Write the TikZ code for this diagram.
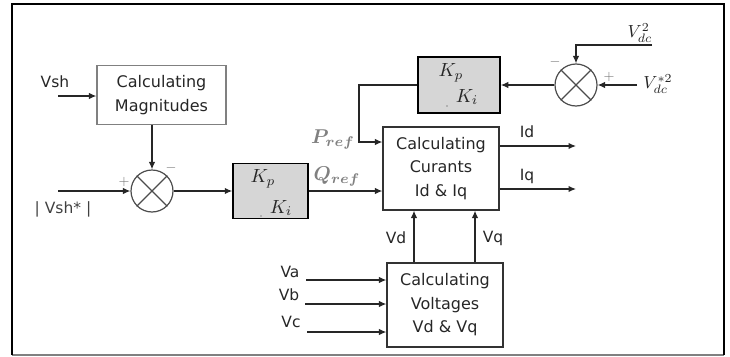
\documentclass[tikz,border=0pt]{standalone}
\usepackage[no-math]{fontspec}
\setmainfont{DejaVu Sans}
\usepackage{amsmath,bm,graphicx}
\usetikzlibrary{arrows.meta}
\begin{document}
\begin{tikzpicture}[x=1pt,y=-1pt,
  lbl/.style={font=\fontsize{15.5}{20}\selectfont, inner sep=0pt, text=black!85},
  blk/.style={draw=black!80, line width=1.2pt, align=center, inner sep=0pt,
    font=\fontsize{16}{23.5}\selectfont, text=black!85},
  pibox/.style={draw=black, fill=black!16, line width=1.5pt, inner sep=0pt,
    minimum height=55pt},
  sumc/.style={circle, draw=black!70, line width=1.2pt, minimum size=42pt, inner sep=0pt},
  arr/.style={line width=1.3pt, draw=black!85, -{Latex[length=7.5pt,width=6.5pt]}},
  refl/.style={text=black!50, inner sep=0pt},
  sgn/.style={text=black!55, inner sep=0pt},
  kfont/.style={inner sep=0pt, text=black!85},
  vfont/.style={inner sep=0pt, text=black!85}]
\useasboundingbox (0,0) rectangle (730,356);
% frame
\draw[black!50, line width=1.5pt] (12,355) -- (724,355);
\draw[black, line width=2pt] (12,355) -- (12,4) -- (724,4) -- (724,355);

% blocks
\node[blk, draw=black!50, minimum width=129pt, minimum height=59pt] (mag) at (161.5,95) {Calculating\\Magnitudes};
\node[blk, minimum width=116pt, minimum height=83pt] (cur) at (441,168.5) {Calculating\\Curants\\Id \& Iq};
\node[blk, minimum width=116pt, minimum height=84pt] (vol) at (445,305) {Calculating\\Voltages\\Vd \& Vq};
\node[pibox, minimum width=75pt] (kp1) at (270.5,191) {};
\node[pibox, minimum width=82pt, minimum height=56pt] (kp2) at (459,85) {};
\node[kfont] (kp1p) at (263,179) {\scalebox{1.9}{$K_p$}};
\node[kfont] (kp1i) at (281,208) {\scalebox{1.9}{$K_i$}};
\node[kfont] (kp2p) at (451,73) {\scalebox{1.9}{$K_p$}};
\node[kfont] (kp2i) at (467,97) {\scalebox{1.9}{$K_i$}};
\fill[black!45] (261,216) circle (0.8pt);
\fill[black!45] (447,106) circle (0.8pt);

% summing junctions
\node[sumc] (s1) at (152,191) {};
\draw[black!70, line width=1.2pt] (s1.45) -- (s1.225) (s1.135) -- (s1.315);
\node[sumc] (s2) at (576,85) {};
\draw[black!70, line width=1.2pt] (s2.45) -- (s2.225) (s2.135) -- (s2.315);

% signs
\node[sgn] (m1) at (171,168) {\scalebox{1.4}{$-$}};
\node[sgn] (p1) at (124,182) {\scalebox{1.4}{$+$}};
\node[sgn] (m2) at (555,62) {\scalebox{1.4}{$-$}};
\node[sgn] (p2) at (609,77) {\scalebox{1.4}{$+$}};

% inputs
\coordinate (vshin) at (58,96);
\node[lbl] (vsh) at (55,82) {Vsh};
\draw[arr] (vshin) -- (vshin -| mag.west);
\draw[arr] (mag.south -| s1) -- (s1.north);
\coordinate (vrefin) at (58,191);
\node[lbl, text=black!75] (vref) at (63,209) {| Vsh* |};
\draw[arr] (vrefin) -- (s1.west);
\draw[arr] (s1.east) -- (kp1.west);
\draw[arr] (kp1.east) -- (kp1.east -| cur.west);
\node[refl] (qref) at (337,176) {\scalebox{2.0}{$\bm{Q_{ref}}$}};

% DC loop
\coordinate (vdc) at (652,45);
\node[vfont] (vdcl) at (640,33) {\scalebox{1.75}{$V_{dc}^{2}$}};
\draw[arr] (vdc) -| (s2.north);
\coordinate (vdcs) at (637,85);
\node[vfont] (vdcsl) at (658,84) {\scalebox{1.75}{$V_{dc}^{*2}$}};
\draw[arr] (vdcs) -- (s2.east);
\draw[arr] (s2.west) -- (kp2.east);
\coordinate (pc) at (359,142);
\draw[arr] (kp2.west) -| (pc) -- (pc -| cur.west);
\node[refl] (pref) at (333,139) {\scalebox{2.0}{$\bm{P_{ref}}$}};

% outputs
\coordinate (idout) at (576,146);
\coordinate (iqout) at (576,189);
\draw[arr] (idout -| cur.east) -- (idout);
\draw[arr] (iqout -| cur.east) -- (iqout);
\node[lbl] (idl) at (527,132) {Id};
\node[lbl] (iql) at (527,176) {Iq};

% Vd Vq
\coordinate (vdx) at (414,0);
\coordinate (vqx) at (475,0);
\draw[arr] (vdx |- vol.north) -- (vdx |- cur.south);
\draw[arr] (vqx |- vol.north) -- (vqx |- cur.south);
\node[lbl] (vdl) at (396,238) {Vd};
\node[lbl] (vql) at (493,238) {Vq};

% Va Vb Vc
\coordinate (vain) at (306,280);
\coordinate (vbin) at (305,304);
\coordinate (vcin) at (307,332);
\draw[arr] (vain) -- (vain -| vol.west);
\draw[arr] (vbin) -- (vbin -| vol.west);
\draw[arr] (vcin) -- (vcin -| vol.west);
\node[lbl] (val) at (290,272) {Va};
\node[lbl] (vbl) at (289,295) {Vb};
\node[lbl] (vcl) at (291,322) {Vc};
\end{tikzpicture}
\end{document}
